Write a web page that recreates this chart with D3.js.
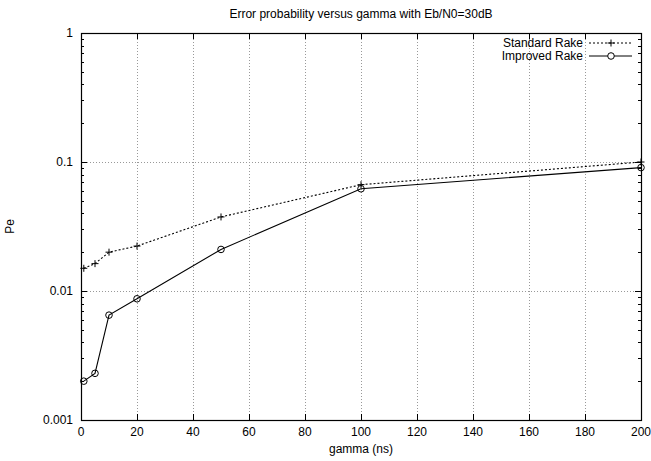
<!DOCTYPE html>
<html>
<head>
<meta charset="utf-8">
<script src="https://cdn.jsdelivr.net/npm/d3@7"></script>
<style>
  body { margin: 0; background: #fff; }
  svg text { font-family: "Liberation Sans", Arial, sans-serif; font-size: 12px; fill: #000; }
</style>
</head>
<body>
<div id="chart"></div>
<script>
const width = 651, height = 461;
const margin = {top: 33, right: 10, bottom: 41, left: 81};

// data
const gammaNs = [1, 5, 10, 20, 50, 100, 200];
const standardRake = [0.015, 0.0163, 0.020, 0.0223, 0.0375, 0.0667, 0.100];
const improvedRake = [0.0020, 0.0023, 0.0065, 0.0087, 0.021, 0.062, 0.0905];
const xTicks = [0, 20, 40, 60, 80, 100, 120, 140, 160, 180, 200];
const yTicks = [0.001, 0.01, 0.1, 1];
const yTickLabels = ["0.001", "0.01", "0.1", "1"];

const svg = d3.select("#chart")
  .append("svg")
  .attr("width", width)
  .attr("height", height);

const x = d3.scaleLinear().domain([0, 200]).range([margin.left, width - margin.right]);
const y = d3.scaleLog().domain([0.001, 1]).range([height - margin.bottom, margin.top]);

const x0 = x.range()[0], x1 = x.range()[1];
const y0 = y.range()[0], y1 = y.range()[1];

// grid
const grid = svg.append("g")
  .attr("stroke", "#999")
  .attr("stroke-width", 1)
  .attr("stroke-dasharray", "1,2");
grid.selectAll(".gx")
  .data(xTicks.slice(1, -1))
  .join("line")
  .attr("x1", d => Math.round(x(d)) + 0.5).attr("x2", d => Math.round(x(d)) + 0.5)
  .attr("y1", y1).attr("y2", y0);
grid.selectAll(".gy")
  .data(yTicks.slice(1, -1))
  .join("line")
  .attr("x1", x0).attr("x2", x1)
  .attr("y1", d => Math.round(y(d)) + 0.5).attr("y2", d => Math.round(y(d)) + 0.5);

// minor log ticks
const minor = [];
[0.001, 0.01, 0.1].forEach(dec => {
  for (let k = 2; k <= 9; k++) minor.push(dec * k);
});

const ticks = svg.append("g").attr("stroke", "#000").attr("stroke-width", 1);
// x ticks bottom and top
ticks.selectAll(".xt")
  .data(xTicks)
  .join("path")
  .attr("d", d => {
    const px = Math.round(x(d)) + 0.5;
    return `M${px},${y0}v-6M${px},${y1}v6`;
  });
// y major and minor ticks left and right
ticks.selectAll(".ym")
  .data(yTicks)
  .join("path")
  .attr("d", d => {
    const py = Math.round(y(d)) + 0.5;
    return `M${x0},${py}h6M${x1},${py}h-6`;
  });
ticks.selectAll(".yn")
  .data(minor)
  .join("path")
  .attr("d", d => {
    const py = Math.round(y(d)) + 0.5;
    return `M${x0},${py}h3M${x1},${py}h-3`;
  });

// border
svg.append("rect")
  .attr("x", x0 + 0.5).attr("y", y1 + 0.5)
  .attr("width", x1 - x0).attr("height", y0 - y1)
  .attr("fill", "none").attr("stroke", "#000").attr("stroke-width", 1.2);

// tick labels
svg.append("g").selectAll("text")
  .data(xTicks)
  .join("text")
  .attr("x", d => x(d))
  .attr("y", y0 + 16)
  .attr("text-anchor", "middle")
  .text(d => d);
svg.append("g").selectAll("text")
  .data(yTicks)
  .join("text")
  .attr("x", x0 - 8)
  .attr("y", d => y(d) + 4)
  .attr("text-anchor", "end")
  .text((d, i) => yTickLabels[i]);

// title & axis labels
svg.append("text")
  .attr("x", (x0 + x1) / 2).attr("y", 18)
  .attr("text-anchor", "middle")
  .text("Error probability versus gamma with Eb/N0=30dB");
svg.append("text")
  .attr("x", (x0 + x1) / 2).attr("y", 453)
  .attr("text-anchor", "middle")
  .text("gamma (ns)");
svg.append("text")
  .attr("transform", `translate(14,${(y0 + y1) / 2}) rotate(-90)`)
  .attr("text-anchor", "middle")
  .text("Pe");

// series
const line = d3.line().x(d => x(d[0])).y(d => y(d[1]));
const stdData = gammaNs.map((g, i) => [g, standardRake[i]]);
const impData = gammaNs.map((g, i) => [g, improvedRake[i]]);

svg.append("path")
  .datum(stdData)
  .attr("d", line)
  .attr("fill", "none")
  .attr("stroke", "#000")
  .attr("stroke-width", 1.1)
  .attr("stroke-dasharray", "2,2");
svg.append("path")
  .datum(impData)
  .attr("d", line)
  .attr("fill", "none")
  .attr("stroke", "#000")
  .attr("stroke-width", 1.1);

const plus = (px, py) => `M${px - 3.5},${py}h7M${px},${py - 3.5}v7`;
svg.append("g").selectAll("path")
  .data(stdData)
  .join("path")
  .attr("d", d => plus(x(d[0]), y(d[1])))
  .attr("stroke", "#000");
svg.append("g").selectAll("circle")
  .data(impData)
  .join("circle")
  .attr("cx", d => x(d[0]))
  .attr("cy", d => y(d[1]))
  .attr("r", 3.3)
  .attr("fill", "none")
  .attr("stroke", "#000");

// legend
const legend = svg.append("g");
const legendItems = [
  {name: "Standard Rake", dash: "2,2", mark: "plus"},
  {name: "Improved Rake", dash: null, mark: "circle"}
];
legendItems.forEach((it, i) => {
  const ly = 43 + i * 13;
  legend.append("text")
    .attr("x", 583).attr("y", ly + 4)
    .attr("text-anchor", "end")
    .text(it.name);
  legend.append("line")
    .attr("x1", 589).attr("x2", 632)
    .attr("y1", ly).attr("y2", ly)
    .attr("stroke", "#000")
    .attr("stroke-dasharray", it.dash);
  if (it.mark === "plus") {
    legend.append("path").attr("d", plus(611, ly)).attr("stroke", "#000");
  } else {
    legend.append("circle").attr("cx", 611).attr("cy", ly).attr("r", 3.3)
      .attr("fill", "#fff").attr("stroke", "#000");
  }
});
</script>
</body>
</html>
